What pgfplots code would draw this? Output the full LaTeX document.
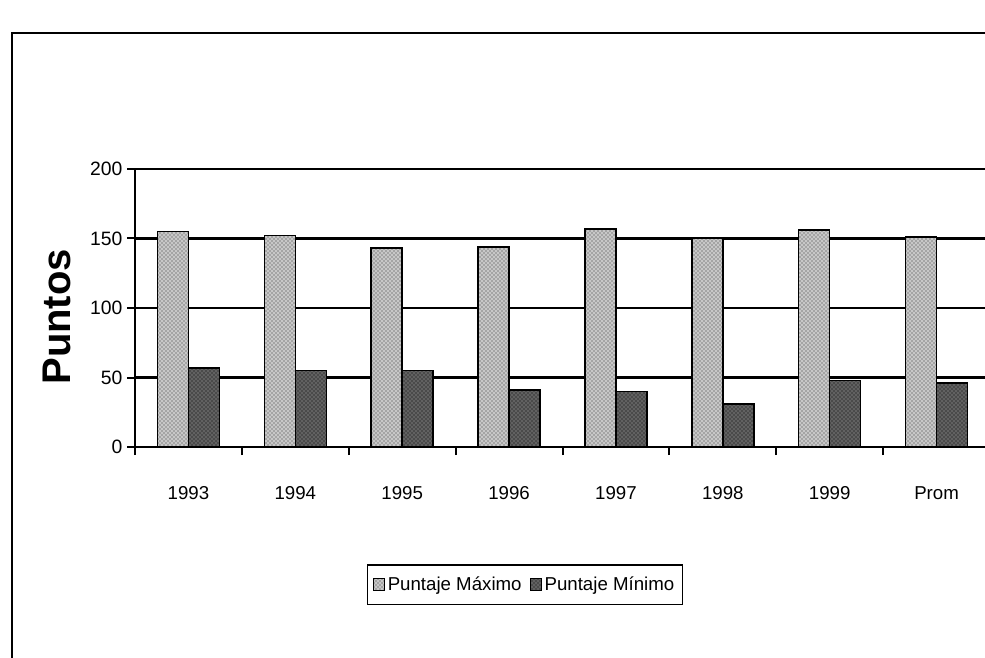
\documentclass[border=0pt]{standalone}
\usepackage{pgfplots}
\pgfplotsset{compat=1.18}
\usepackage{fontspec}
\setmainfont{Liberation Sans}
\usetikzlibrary{patterns}
\definecolor{maxfill}{gray}{0.78}
\definecolor{minfill}{gray}{0.38}
\begin{document}
\begin{tikzpicture}
\useasboundingbox (0,0) rectangle (738.75pt,492.75pt);
\clip (0,0) rectangle (738.75pt,492.75pt);
\fill[white] (0,0) rectangle (738.75pt,492.75pt);
\draw[line width=1.6pt] (9pt,-20pt) rectangle (760pt,468pt);
\begin{axis}[
  at={(101.25pt,157.5pt)}, anchor=south west,
  width=641.25pt, height=208.5pt, scale only axis,
  xmin=-0.5, xmax=7.5, ymin=0, ymax=200,
  axis lines=left, axis line style={-, line width=1.7pt},
  ybar=0pt, bar width=0.29,
  xtick={-0.5,0.5,...,7.5}, x tick label as interval,
  xticklabels={1993,1994,1995,1996,1997,1998,1999,Prom},
  ytick={0,50,100,150,200},
  tick align=outside, major tick length=6pt,
  tick style={line width=1.5pt, black},
  ymajorgrids, grid style={line width=1.7pt, black},
  /pgf/number format/assume math mode=true,
  yticklabel style={font=\fontsize{14.5}{15}\selectfont},
  xticklabel style={font=\fontsize{14}{15}\selectfont, yshift=-20pt},
  ylabel={Puntos},
  every axis y label/.style={at={(axis description cs:-0.091,0.468)}, rotate=90, anchor=center, font=\bfseries\fontsize{30}{30}\selectfont},
  legend style={at={(axis description cs:0.456,-0.496)}, anchor=center, legend columns=2, draw=black, line width=1.1pt, font=\fontsize{14}{15}\selectfont, inner xsep=4pt, inner ysep=7pt, /tikz/every even column/.append style={column sep=4pt}},
  legend image code/.code={\draw[#1, line width=0.7pt] (0cm,-0.14cm) rectangle (0.3cm,0.16cm);},
  clip=false,
]
\addplot[draw=black, line width=1.1pt, fill=maxfill, postaction={pattern=crosshatch dots, pattern color=black!80}] coordinates {(0,155) (1,152) (2,143) (3,144) (4,157) (5,150) (6,156) (7,151)};
\addplot[draw=black, line width=1.1pt, fill=minfill, postaction={pattern=crosshatch dots, pattern color=black}] coordinates {(0,57) (1,55) (2,55) (3,41) (4,40) (5,31) (6,48) (7,46)};
\legend{Puntaje Máximo, Puntaje Mínimo}
\end{axis}
\end{tikzpicture}
\end{document}
